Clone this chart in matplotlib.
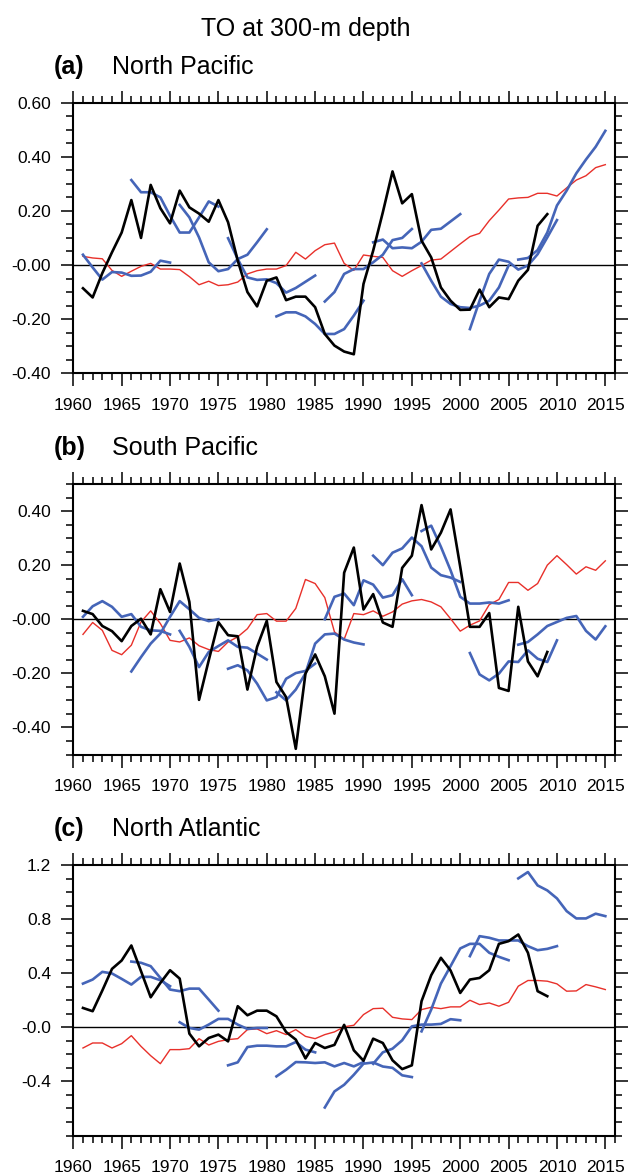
import matplotlib
matplotlib.use("Agg")
import matplotlib.pyplot as plt
from matplotlib.ticker import MultipleLocator, FixedLocator

plt.rcParams['font.family'] = ['Liberation Sans', 'DejaVu Sans']

# ---------------- data ----------------
obs_years = list(range(1961, 2010))
mod_years = list(range(1961, 2016))
seg_starts = [1961, 1966, 1971, 1976, 1981, 1986, 1991, 1996, 2001, 2006]

# (a) North Pacific
np_obs = [-0.086, -0.12, -0.03, 0.047, 0.12, 0.24, 0.10, 0.296, 0.21, 0.154,
          0.275, 0.213, 0.19, 0.16, 0.24, 0.158, 0.016, -0.10, -0.153, -0.058,
          -0.046, -0.13, -0.117, -0.117, -0.156, -0.255, -0.298, -0.32, -0.33, -0.07,
          0.053, 0.195, 0.346, 0.228, 0.262, 0.09, 0.028, -0.083, -0.132, -0.166,
          -0.165, -0.091, -0.156, -0.12, -0.126, -0.058, -0.018, 0.145, 0.188]
np_mod = [0.032, 0.026, 0.023, -0.02, -0.042, -0.023, -0.005, 0.006, -0.015, -0.015,
          -0.017, -0.043, -0.073, -0.06, -0.076, -0.073, -0.063, -0.033, -0.021, -0.015,
          -0.015, -0.002, 0.047, 0.022, 0.053, 0.075, 0.081, 0.006, -0.02, 0.037,
          0.032, 0.028, -0.021, -0.042, -0.021, -0.002, 0.018, 0.022, 0.05, 0.078,
          0.105, 0.117, 0.164, 0.203, 0.244, 0.248, 0.25, 0.265, 0.265, 0.255,
          0.285, 0.314, 0.33, 0.36, 0.371]
np_hind = [
    [0.038, -0.009, -0.054, -0.026, -0.028, -0.04, -0.039, -0.025, 0.016, 0.009],
    [0.314, 0.269, 0.269, 0.25, 0.182, 0.12, 0.12, 0.176, 0.235, 0.216],
    [0.222, 0.176, 0.102, 0.01, -0.023, -0.015, 0.022, 0.038, 0.084, 0.132],
    [0.099, 0.022, -0.046, -0.055, -0.053, -0.067, -0.102, -0.085, -0.062, -0.039],
    [-0.19, -0.175, -0.175, -0.19, -0.218, -0.255, -0.255, -0.237, -0.187, -0.132],
    [-0.135, -0.10, -0.033, -0.015, -0.015, 0.01, 0.038, 0.092, 0.10, 0.133],
    [0.084, 0.094, 0.062, 0.065, 0.062, 0.086, 0.13, 0.134, 0.161, 0.188],
    [0.006, -0.058, -0.117, -0.144, -0.156, -0.159, -0.15, -0.132, -0.083, -0.002],
    [-0.237, -0.132, -0.033, 0.02, 0.012, -0.017, -0.002, 0.04, 0.102, 0.166],
    [0.02, 0.026, 0.055, 0.12, 0.22, 0.275, 0.339, 0.39, 0.437, 0.496],
]

# (b) South Pacific
sp_obs = [0.031, 0.019, -0.025, -0.044, -0.081, -0.025, 0.002, -0.056, 0.111, 0.027,
          0.206, 0.064, -0.298, -0.152, -0.011, -0.059, -0.063, -0.26, -0.102, -0.006,
          -0.232, -0.288, -0.479, -0.201, -0.13, -0.211, -0.349, 0.172, 0.265, 0.036,
          0.093, -0.012, -0.028, 0.19, 0.235, 0.422, 0.258, 0.32, 0.406, 0.194,
          -0.028, -0.028, 0.023, -0.254, -0.265, 0.046, -0.156, -0.211, -0.121]
sp_mod = [-0.056, -0.012, -0.041, -0.115, -0.131, -0.096, -0.01, 0.031, -0.016, -0.078,
          -0.084, -0.069, -0.098, -0.112, -0.119, -0.084, -0.065, -0.035, 0.017, 0.021,
          -0.007, -0.007, 0.04, 0.147, 0.132, 0.08, -0.047, -0.074, 0.021, 0.017,
          0.031, 0.011, 0.027, 0.056, 0.068, 0.073, 0.064, 0.046, 0.002, -0.044,
          -0.022, -0.006, 0.054, 0.073, 0.136, 0.136, 0.107, 0.132, 0.20, 0.235,
          0.202, 0.167, 0.194, 0.181, 0.216]
sp_hind = [
    [0.009, 0.048, 0.067, 0.046, 0.009, 0.019, -0.028, -0.041, -0.043, -0.056],
    [-0.193, -0.14, -0.09, -0.053, 0.009, 0.067, 0.037, 0.005, -0.007, 0.0],
    [-0.043, -0.102, -0.177, -0.121, -0.099, -0.078, -0.102, -0.105, -0.127, -0.149],
    [-0.183, -0.17, -0.189, -0.238, -0.30, -0.288, -0.22, -0.199, -0.191, -0.164],
    [-0.27, -0.30, -0.26, -0.20, -0.09, -0.056, -0.053, -0.075, -0.086, -0.093],
    [0.0, 0.083, 0.095, 0.052, 0.144, 0.128, 0.08, 0.089, 0.148, 0.089],
    [0.235, 0.20, 0.246, 0.262, 0.302, 0.27, 0.191, 0.163, 0.154, 0.138],
    [0.326, 0.346, 0.268, 0.181, 0.083, 0.058, 0.058, 0.062, 0.058, 0.07],
    [-0.125, -0.204, -0.226, -0.201, -0.156, -0.158, -0.115, -0.146, -0.158, -0.078],
    [-0.094, -0.084, -0.056, -0.025, -0.01, 0.005, 0.012, -0.043, -0.075, -0.026],
]

# (c) North Atlantic
na_obs = [0.143, 0.119, 0.272, 0.432, 0.494, 0.605, 0.415, 0.222, 0.328, 0.422,
          0.36, -0.047, -0.141, -0.079, -0.054, -0.104, 0.156, 0.089, 0.123, 0.123,
          0.081, -0.035, -0.091, -0.23, -0.116, -0.153, -0.13, 0.018, -0.17, -0.247,
          -0.084, -0.116, -0.244, -0.309, -0.281, 0.193, 0.385, 0.514, 0.42, 0.254,
          0.353, 0.365, 0.422, 0.617, 0.637, 0.686, 0.551, 0.267, 0.23]
na_mod = [-0.153, -0.116, -0.116, -0.153, -0.121, -0.062, -0.141, -0.21, -0.269, -0.165,
          -0.165, -0.158, -0.084, -0.131, -0.104, -0.091, -0.084, -0.017, -0.012, -0.047,
          -0.025, -0.054, -0.017, -0.067, -0.084, -0.054, -0.034, 0.004, 0.015, 0.094,
          0.138, 0.141, 0.074, 0.062, 0.057, 0.131, 0.148, 0.138, 0.151, 0.151,
          0.20, 0.168, 0.18, 0.156, 0.185, 0.304, 0.346, 0.346, 0.341, 0.321,
          0.267, 0.269, 0.316, 0.299, 0.279]
na_hind = [
    [0.323, 0.353, 0.41, 0.398, 0.358, 0.316, 0.373, 0.373, 0.348, 0.304],
    [0.486, 0.477, 0.452, 0.365, 0.279, 0.267, 0.286, 0.286, 0.205, 0.123],
    [0.037, -0.005, -0.017, 0.02, 0.062, 0.062, 0.02, -0.012, -0.005, -0.005],
    [-0.281, -0.259, -0.146, -0.136, -0.136, -0.141, -0.141, -0.109, -0.165, -0.185],
    [-0.363, -0.314, -0.257, -0.259, -0.264, -0.259, -0.289, -0.264, -0.289, -0.257],
    [-0.593, -0.474, -0.425, -0.351, -0.269, -0.26, -0.29, -0.30, -0.355, -0.368],
    [-0.27, -0.185, -0.158, -0.096, 0.007, 0.02, 0.02, 0.025, 0.06, 0.052],
    [-0.03, 0.131, 0.323, 0.452, 0.583, 0.617, 0.617, 0.551, 0.521, 0.496],
    [0.526, 0.674, 0.662, 0.642, 0.642, 0.642, 0.60, 0.57, 0.58, 0.60],
    [1.101, 1.148, 1.049, 1.012, 0.953, 0.859, 0.805, 0.805, 0.84, 0.822],
]

panels = [
    ("(a)", "North Pacific", np_obs, np_mod, np_hind,
     (-0.4, 0.6), [0.6, 0.4, 0.2, 0.0, -0.2, -0.4],
     ["0.60", "0.40", "0.20", "-0.00", "-0.20", "-0.40"], 0.05),
    ("(b)", "South Pacific", sp_obs, sp_mod, sp_hind,
     (-0.5, 0.5), [0.4, 0.2, 0.0, -0.2, -0.4],
     ["0.40", "0.20", "-0.00", "-0.20", "-0.40"], 0.05),
    ("(c)", "North Atlantic", na_obs, na_mod, na_hind,
     (-0.8, 1.2), [1.2, 0.8, 0.4, 0.0, -0.4],
     ["1.2", "0.8", "0.4", "-0.0", "-0.4"], 0.1),
]

xticks = list(range(1960, 2016, 5))
BLUE = '#4565b8'
RED = '#e8302a'

W, H = 629, 1176
fig = plt.figure(figsize=(W / 100, H / 100), dpi=100)

tops = [102.7, 484.0, 865.0]
ax_h = 270.5
left, right = 73.3, 615.0

fig.text(306 / W, 1 - 29 / H, "TO at 300-m depth", ha='center', va='center', fontsize=18)

for (lab, name, obs, mod, hind, ylim, yt, ytl, ymin), top in zip(panels, tops):
    ax = fig.add_axes([left / W, 1 - (top + ax_h) / H, (right - left) / W, ax_h / H])
    ax.axhline(0, color='black', lw=1.0, zorder=1)
    ax.plot(mod_years, mod, color=RED, lw=1.0, zorder=2)
    for s, seg in zip(seg_starts, hind):
        ax.plot(list(range(s, s + len(seg))), seg, color=BLUE, lw=1.9, zorder=3)
    ax.plot(obs_years, obs, color='black', lw=1.9, zorder=4)
    ax.set_xlim(1960, 2016)
    ax.set_ylim(*ylim)
    ax.xaxis.set_major_locator(FixedLocator(xticks))
    ax.xaxis.set_minor_locator(MultipleLocator(1))
    ax.set_xticklabels([str(x) for x in xticks])
    ax.yaxis.set_major_locator(FixedLocator(yt))
    ax.set_yticklabels(ytl)
    ax.yaxis.set_minor_locator(MultipleLocator(ymin))
    ax.tick_params(which='both', direction='out', top=True, right=True,
                   labelsize=12.5, width=1.1, color='black')
    ax.tick_params(which='major', length=9)
    ax.tick_params(which='minor', length=5)
    ax.tick_params(axis='x', which='major', pad=8.5)
    ax.tick_params(axis='y', which='major', pad=7)
    for sp in ax.spines.values():
        sp.set_linewidth(1.5)
    ytxt = 1 - (top - 36) / H
    fig.text(54 / W, ytxt, lab, fontsize=18, fontweight='bold', ha='left', va='center')
    fig.text(112 / W, ytxt, name, fontsize=18, ha='left', va='center')

fig.savefig("out.png", dpi=100)
